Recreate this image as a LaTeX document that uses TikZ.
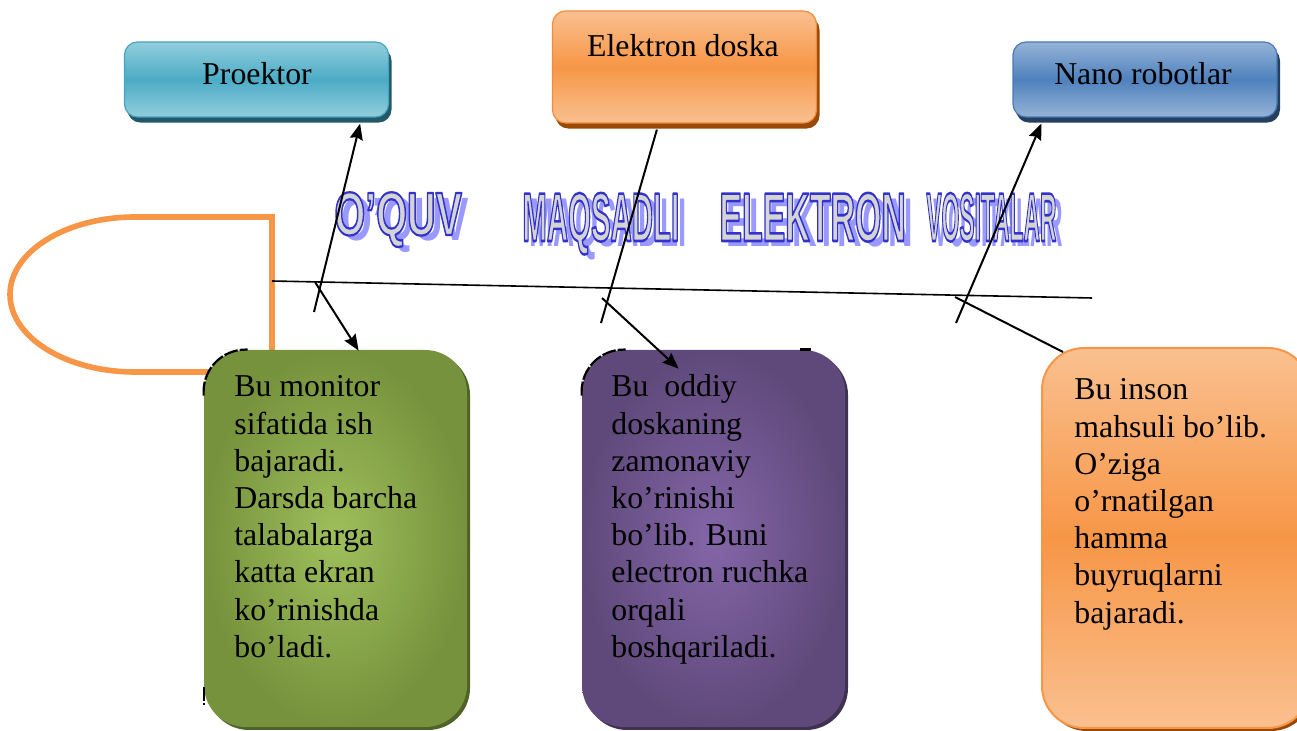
\documentclass[tikz,border=0pt]{standalone}
\usepackage{fontspec}
\setmainfont{Liberation Serif}
\newfontfamily\titlefont{Liberation Sans}
\usepackage{graphicx}
\usetikzlibrary{arrows.meta,calc,shadows}

% palette
\definecolor{cyanlight}{HTML}{93CDDD}
\definecolor{cyanmid}{HTML}{4BACC6}
\definecolor{cyanedge}{HTML}{46A5BF}
\definecolor{cyanshadow}{HTML}{215968}
\definecolor{orlight}{HTML}{FAC090}
\definecolor{ormid}{HTML}{F79646}
\definecolor{oredge}{HTML}{F08C3C}
\definecolor{orshadow}{HTML}{984807}
\definecolor{bluelight}{HTML}{95B3D7}
\definecolor{bluemid}{HTML}{4F81BD}
\definecolor{blueedge}{HTML}{4A7AB5}
\definecolor{blueshadow}{HTML}{243F60}
\definecolor{greenin}{HTML}{9FBF5C}
\definecolor{greenout}{HTML}{76923C}
\definecolor{greenshadow}{HTML}{4F6228}
\definecolor{purpin}{HTML}{8466A8}
\definecolor{purpout}{HTML}{5F497A}
\definecolor{purpshadow}{HTML}{3F3151}
\definecolor{titleshade}{RGB}{153,153,255}
\definecolor{titlegray}{RGB}{212,212,212}

% stretched word-art lettering
\newcommand\artword[3]{\scalebox{#1}[#2]{\titlefont\bfseries\fontsize{30pt}{30pt}\selectfont #3}}
% letters filled in the current colour and stroked in blue
\newcommand\outlined[1]{\special{pdf:literal direct 0.2 0.2 0.8 RG 1.1 w 1 j 2 Tr}#1\special{pdf:literal direct 0 Tr}}

\begin{document}
\begin{tikzpicture}[x=0.5pt,y=-0.5pt,
  topbox/.style={rounded corners=6.5pt, inner sep=0, line width=0.6pt,
    minimum width=132pt, minimum height=37.5pt},
  bodybox/.style={rounded corners=21pt, inner sep=0,
    minimum width=131.5pt, minimum height=188.5pt},
  boxlabel/.style={inner sep=0, anchor=base, font=\fontsize{15.9pt}{18.6pt}\selectfont},
  bodytext/.style={inner sep=0, anchor=base west, font=\fontsize{15.9pt}{18.6pt}\selectfont},
  artshade/.style={inner sep=0, anchor=base west, text=titleshade},
  artmain/.style={inner sep=0, anchor=base west, text=titlegray},
  conn/.style={line width=1pt, black},
  connarrow/.style={conn, -{Stealth[length=8pt,width=6.5pt,inset=1pt]}},
  spineline/.style={line width=0.8pt, black},
  headline/.style={line width=2.8pt, ormid},
  cornermark/.style={line width=1.1pt, black, rounded corners=21pt, dash pattern=on 7pt off 1pt}
]
\useasboundingbox (0,0) rectangle (1297,731);
\clip (0,0) rectangle (1297,731);

% fish head outline
\draw[headline] (215,372) -- (135,372)
  .. controls (66,372) and (10,337.3) .. (10,294.5)
  .. controls (10,251.7) and (66,217) .. (135,217)
  -- (272,217) -- (272,355);

% upper boxes
\node[topbox, draw=cyanedge, top color=cyanlight, bottom color=cyanlight, middle color=cyanmid,
  drop shadow={shadow xshift=1.5pt, shadow yshift=-2.8pt, fill=cyanshadow, opacity=1}]
  (proektor) at (256.5,79.5) {};
\node[boxlabel] (proektorlabel) at (257,85) {Proektor};

\node[topbox, minimum height=56pt, draw=oredge, top color=orlight, bottom color=orlight, middle color=ormid,
  drop shadow={shadow xshift=1.5pt, shadow yshift=-2.8pt, fill=orshadow, opacity=1}]
  (edoska) at (684.5,67) {};
\node[boxlabel] (edoskalabel) at (683,57) {Elektron doska};

\node[topbox, draw=blueedge, top color=bluelight, bottom color=bluelight, middle color=bluemid,
  drop shadow={shadow xshift=1.5pt, shadow yshift=-2.8pt, fill=blueshadow, opacity=1}]
  (nano) at (1145,79.5) {};
\node[boxlabel] (nanolabel) at (1143,85) {Nano robotlar};

% lower boxes
\node[bodybox, inner color=greenin, outer color=greenout,
  drop shadow={shadow xshift=1.5pt, shadow yshift=-1.5pt, fill=greenshadow, opacity=1}]
  (green) at (335.5,538.5) {};
\node[bodybox, inner color=purpin, outer color=purpout,
  drop shadow={shadow xshift=1.5pt, shadow yshift=-1.5pt, fill=purpshadow, opacity=1}]
  (purple) at (713.5,538.5) {};
\node[bodybox, minimum width=134pt, minimum height=190pt, draw=ormid, line width=1pt,
  top color=orlight, bottom color=orlight, middle color=ormid,
  drop shadow={shadow xshift=1.5pt, shadow yshift=-1.5pt, fill=orshadow, opacity=1}]
  (orangebox) at (1176,538) {};

% dark marks on the box corners
\draw[cornermark] ($(green.north west)+(0,46)$) -- (green.north west) -- ($(green.north west)+(44,0)$);
\draw[cornermark] ($(green.south west)+(0,-40)$) -- ($(green.south west)+(0,-22)$);
\draw[cornermark] ($(purple.north west)+(0,46)$) -- (purple.north west) -- ($(purple.north west)+(44,0)$);
\draw[line width=1.1pt] ($(purple.north east)+(-45,0)$) -- ($(purple.north east)+(-34,0)$);

% box texts
\node[bodytext] (greentext) at (234,397) {\parbox[t]{150pt}{Bu monitor\\
sifatida ish\\
bajaradi.\\
Darsda barcha\\
talabalarga\\
katta ekran\\
ko’rinishda\\
bo’ladi.}};
\node[bodytext] (purpletext) at (611,397) {\parbox[t]{150pt}{Bu\ \ oddiy\\
doskaning\\
zamonaviy\\
ko’rinishi\\
bo’lib. Buni\\
electron ruchka\\
orqali\\
boshqariladi.}};
\node[bodytext] (orangetext) at (1074,400) {\parbox[t]{150pt}{Bu inson\\
mahsuli bo’lib.\\
O’ziga\\
o’rnatilgan\\
hamma\\
buyruqlarni\\
bajaradi.}};

% title lettering: shade, then outlined letters
\node[artshade] (word1sh) at (341,241) {\artword{0.66}{1.02}{O’QUV}};
\node[artmain] (word1) at (334,235) {\artword{0.66}{1.02}{\outlined{O’QUV}}};
\node[artshade] (word2sh) at (529,247) {\artword{0.49}{1.15}{MAQSADLI}};
\node[artmain] (word2) at (522,241) {\artword{0.49}{1.15}{\outlined{MAQSADLI}}};
\node[artshade] (word3sh) at (726,247) {\artword{0.565}{1.15}{ELEKTRON}};
\node[artmain] (word3) at (719,241) {\artword{0.565}{1.15}{\outlined{ELEKTRON}}};
\node[artshade] (word4sh) at (933,247) {\artword{0.38}{1.15}{VOSITALAR}};
\node[artmain] (word4) at (926,241) {\artword{0.38}{1.15}{\outlined{VOSITALAR}}};

% spine
\coordinate (spineL) at (272,281);
\coordinate (spineR) at (1092,298);
\draw[spineline] (spineL) -- (spineR);

% branches
\coordinate (b1) at (314,312);
\coordinate (b2) at (315,282);
\coordinate (b3) at (601,323);
\coordinate (b4) at (602,298);
\coordinate (b5) at (956,323);
\coordinate (b6) at (955,297);

\draw[connarrow] (b1) -- ($(proektor.south east)+(-29,6)$);
\draw[connarrow] (b2) -- ($(green.north west)+(155,1)$);
\draw[conn] (b3) -- ($(edoska.south west)+(105,6)$);
\draw[connarrow] (b4) -- ($(purple.north west)+(97,19)$);
\draw[connarrow] (b5) -- ($(nano.south west)+(29,6)$);
\draw[conn] (b6) -- ($(orangebox.north west)+(22,5)$);
\end{tikzpicture}
\end{document}
